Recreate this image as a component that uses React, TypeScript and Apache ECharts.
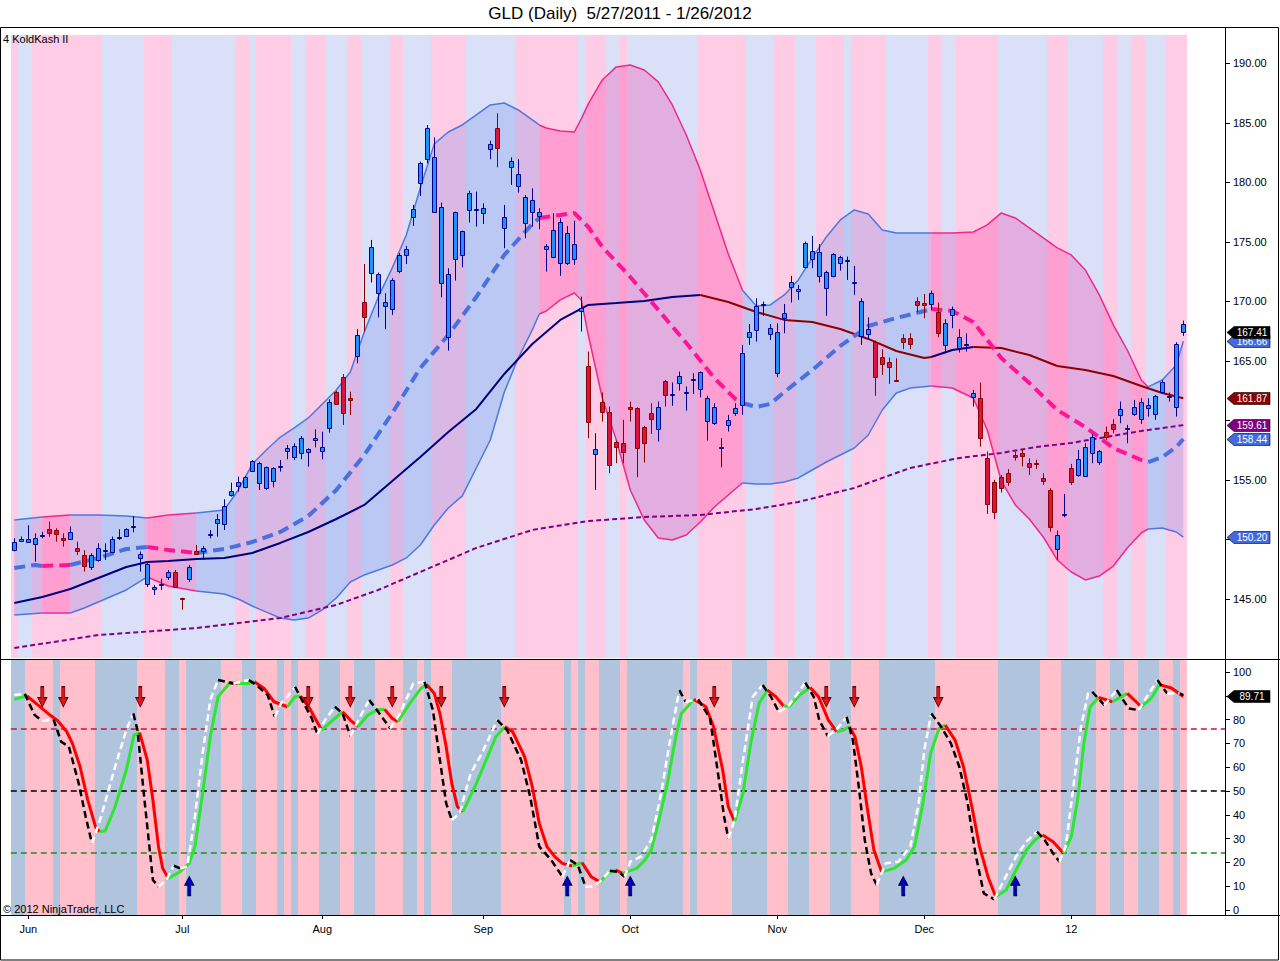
import React, { useEffect, useRef } from "react";
import * as echarts from "echarts";

const FONT = 'Arial, "Liberation Sans", Helvetica, sans-serif';
const TITLE = "GLD (Daily)  5/27/2011 - 1/26/2012";
const INDICATOR_LABEL = "4 KoldKash II";
const COPYRIGHT = "\u00a9 2012 NinjaTrader, LLC";

// x axis: bar index of the first session of each month
const MONTH_TICK_INDEX = [2, 24, 44, 67, 88, 109, 130, 151];
const MONTH_TICK_LABELS = ["Jun", "Jul", "Aug", "Sep", "Oct", "Nov", "Dec", "12"];
const PRICE_TICKS = [145, 150, 155, 160, 165, 170, 175, 180, 185, 190];
// price labels hidden under the last-value markers in the reference
const PRICE_TICKS_COVERED = [150, 160];
const OSC_TICKS = [0, 10, 20, 30, 40, 50, 60, 70, 80, 90, 100];
const OSC_TICKS_COVERED = [90];

// ---- candles (168 daily bars) ----
const OPEN = [149.12,149.85,149.80,149.62,150.35,150.86,150.80,150.10,150.04,149.26,
148.70,147.72,148.28,149.00,148.92,150.15,150.32,151.02,148.42,146.26,
145.82,146.20,146.82,147.27,145.06,146.66,149.04,149.00,150.40,151.36,
151.28,153.74,154.52,154.38,155.78,154.72,154.30,154.94,156.08,157.41,
156.96,157.24,157.35,158.36,157.46,159.34,162.36,163.62,161.86,165.43,
169.99,172.43,170.75,169.63,169.35,172.59,173.91,177.13,179.93,181.95,
177.55,171.59,166.99,173.55,173.89,177.69,177.70,177.41,182.79,184.55,
176.15,181.33,179.71,176.57,177.53,177.19,174.39,173.71,173.27,173.21,
173.55,169.21,164.59,157.17,161.59,160.75,158.17,158.09,161.11,161.03,
159.43,160.61,159.27,163.33,162.20,163.19,162.35,163.45,162.63,159.99,
159.83,157.71,159.63,160.61,161.31,167.05,167.61,169.70,167.27,164.03,
168.65,171.19,170.89,172.87,173.55,172.15,171.11,172.15,173.21,173.40,
171.57,167.13,167.25,166.63,165.31,164.89,163.37,166.97,166.91,170.02,
169.85,169.79,169.09,166.35,168.87,166.07,166.41,162.01,161.87,156.83,
154.81,155.29,155.57,157.11,157.25,156.41,156.43,155.15,154.17,149.19,
152.13,155.99,155.43,155.37,157.25,156.55,158.99,159.69,160.44,159.33,
160.55,160.11,161.09,160.53,162.41,161.99,161.11,168.11];
const CLOSE = [149.82,150.00,150.00,150.16,150.40,150.52,150.44,149.96,150.60,149.04,
147.80,148.70,149.26,149.12,150.02,150.20,150.86,151.10,148.78,147.94,
146.04,146.25,147.27,146.04,145.00,147.72,148.80,149.26,150.45,151.70,
152.82,154.10,154.86,155.22,156.60,156.40,156.06,155.98,156.14,157.69,
157.86,158.50,157.60,158.50,157.74,161.58,161.38,160.66,161.72,167.19,
168.67,174.55,172.31,169.99,171.81,173.91,174.41,177.75,181.61,184.55,
182.17,177.91,172.31,177.49,175.95,179.09,177.80,177.83,183.23,182.87,
177.07,181.81,180.71,178.75,178.53,177.49,174.67,176.01,176.68,175.73,
174.81,169.43,159.91,157.61,160.69,156.27,157.75,157.39,160.95,157.67,
158.09,160.11,161.11,162.15,162.25,163.75,162.40,163.50,164.05,161.87,
161.11,157.76,160.05,161.03,165.65,167.44,169.63,169.75,167.75,167.41,
169.01,171.67,171.05,174.95,174.27,174.19,172.45,173.97,173.71,173.45,
171.62,170.05,167.69,163.63,164.73,164.53,163.33,166.63,166.41,169.71,
169.67,170.75,167.33,168.17,169.37,166.99,166.46,162.35,158.51,152.97,
152.35,154.31,154.87,156.91,157.05,156.07,156.39,154.95,151.09,150.36,
152.18,154.79,156.75,157.73,158.65,157.42,158.59,159.29,161.00,159.38,
161.17,161.59,161.29,162.07,163.21,162.04,166.41,167.41];
const HIGH = [150.10,150.25,151.20,150.52,150.65,151.50,150.94,150.52,151.10,149.82,
149.10,148.84,149.68,149.68,150.24,150.86,150.94,151.98,148.98,148.00,
146.18,146.70,147.44,147.44,145.10,147.86,149.54,149.46,150.80,152.14,
153.38,154.78,155.28,155.34,156.68,156.54,156.12,156.06,156.68,157.94,
158.08,158.70,157.66,159.26,159.06,161.78,162.50,163.90,162.42,167.67,
173.15,175.17,172.43,170.69,171.95,174.05,174.67,178.11,181.75,184.83,
183.79,178.31,172.79,177.55,175.95,179.31,179.23,178.25,183.51,185.81,
178.11,182.11,181.95,178.95,179.51,177.83,174.83,177.41,176.99,176.35,
176.79,170.41,165.79,158.93,162.35,161.17,158.31,160.05,161.59,161.11,
159.55,161.45,161.59,163.41,163.19,164.11,162.85,163.97,164.11,162.07,
161.45,158.51,160.47,161.45,166.35,168.11,170.27,169.99,168.11,168.17,
169.79,172.15,171.39,175.03,175.51,174.83,172.59,174.05,173.83,173.77,
172.99,170.27,168.67,166.71,165.99,165.29,165.23,167.25,167.33,170.35,
170.63,170.91,169.91,168.51,169.57,167.67,167.33,162.57,163.19,157.39,
155.01,155.43,155.91,157.39,157.53,156.83,156.69,155.57,154.31,150.75,
153.83,156.35,157.53,158.09,158.87,157.53,159.49,160.11,161.59,159.63,
161.73,161.87,161.87,162.15,163.41,162.35,166.57,168.39];
const LOW = [149.00,149.80,149.75,148.14,150.10,150.24,149.82,149.40,149.96,148.70,
147.30,147.44,148.14,148.28,148.84,149.96,150.24,150.60,147.30,146.00,
145.34,145.76,146.60,145.98,144.10,146.44,148.70,148.28,150.10,150.24,
150.80,153.60,154.02,154.30,155.70,154.16,154.16,154.38,155.70,156.74,
156.68,156.74,156.12,157.74,156.74,158.98,161.30,159.62,160.46,164.81,
167.47,171.59,168.67,167.67,168.87,172.37,173.15,176.35,178.87,181.61,
177.47,170.35,165.87,171.75,172.87,176.63,176.29,176.51,181.95,181.27,
174.47,179.79,179.15,175.31,176.29,176.07,172.51,173.63,172.15,173.07,
173.07,167.47,158.51,154.17,159.91,155.57,156.41,156.41,159.91,155.23,
156.47,158.87,158.23,161.17,161.23,162.51,160.83,162.23,161.95,158.31,
159.63,156.07,159.07,160.39,160.47,166.35,166.63,168.79,166.77,163.63,
167.33,169.91,170.13,172.79,172.79,171.59,168.79,172.03,172.59,171.81,
170.55,166.35,166.85,162.07,163.83,163.07,163.27,165.99,165.99,169.07,
168.59,169.29,166.99,165.65,167.75,165.71,165.79,161.17,157.81,152.15,
151.71,153.95,154.51,156.63,156.13,155.43,155.91,154.59,150.67,148.29,
151.87,154.59,155.29,155.29,156.41,156.27,158.37,158.93,159.77,158.09,
160.39,159.71,160.33,160.05,162.35,161.59,160.33,167.11];
// bar paint colour: B = blue, R = red (groups of ten)
const CANDLE_COLOR = ("BBBBBRRRBR RBBBBBBBBB BBBRRBRBBB BBBBBBBBBB BBBBBBRRRB RBBBBBBBBB BBBBBBBBBR BBBBBBBBBB " +
  "BBRBRRRRRR RRBRBBBBBB BBBBBBBBBB BBBBBBBBBB BBBRRRRRRR RBRBBBBBRR RRRRRRRRRB BRBBBBRRBB BBBBBBBB").replace(/ /g, "");

// background stripes: run lengths, alternating colours
const UPPER_BG_RUNS = [1,2,10,6,4,9,2,1,5,2,3,3,2,4,2,4,5,7,9,1,3,2,1,10,7,4,3,3,4,1,5,6,2,2,6,7,3,5,2,2,2,3,3]; // starts pink
const LOWER_BG_RUNS = [2,4,1,5,6,4,2,1,5,3,2,3,1,1,1,3,3,2,3,4,2,1,1,3,7,9,1,1,1,2,3,1,8,1,1,5,5,3,3,3,3,4,8,9,6,3,5,2,2,2,3,2,1,1]; // starts blue

// ---- bands (sampled at bar indices) ----
const BAND_X = [0,4,8,10,12,16,19,22,26,30,32,34,36,38,40,42,44,46,48,50,52,54,56,58,60,62,64,66,68,70,72,74,75,76,78,80,81,82,84,86,88,90,92,94,96,98,100,102,104,106,108,110,112,114,116,118,120,122,124,126,128,131,134,137,139,141,143,145,147,149,151,153,155,157,159,161,162,164,166,167];
const UPPER_BAND = [151.64,151.89,152.06,152.06,152.06,151.97,151.81,152.06,152.23,
152.48,154.16,156.34,157.52,158.61,159.37,160.21,161.39,162.56,164.08,
167.44,170.38,172.82,175.59,179.54,183.24,184.24,184.83,185.67,186.51,
186.68,186.09,185.25,184.83,184.58,184.33,184.24,185.34,186.60,188.61,
189.71,189.87,189.45,188.45,186.51,183.99,181.05,177.52,173.99,170.97,
169.62,169.71,170.55,171.81,173.66,175.42,176.85,177.69,177.35,176.01,
175.76,175.76,175.76,175.76,175.84,176.43,177.44,177.02,176.18,175.34,
174.50,173.91,172.65,170.55,168.03,165.92,163.40,162.82,163.40,164.66,166.66];
const LOWER_BAND = [143.66,143.82,143.82,144.24,144.75,145.76,146.85,146.09,145.67,
145.42,145.00,144.41,143.90,143.40,143.24,143.40,144.08,145.08,146.43,
147.02,147.44,147.86,148.45,149.54,151.22,152.65,153.66,156.01,158.36,
162.39,165.25,167.61,168.95,169.20,170.13,170.71,170.13,167.18,161.89,
158.36,154.16,151.64,150.13,149.96,150.38,151.47,152.73,153.74,154.75,
154.66,154.66,154.83,155.17,155.84,156.51,157.10,157.69,158.78,160.88,
162.31,162.73,162.90,162.73,161.89,159.20,154.92,152.90,151.72,150.21,
148.28,147.27,146.60,146.93,147.77,149.29,150.55,150.88,150.97,150.63,150.20];
// trend segments [from, to, up?] of the band / middle line
const BAND_SEGMENTS = [[0,4,1],[4,8,0],[8,19,1],[19,26,0],[26,75,1],[75,104,0],[104,131,1],[131,162,0],[162,167,1]];

const MID_X = [0,3,4,8,12,16,19,22,26,30,34,38,42,46,50,54,58,62,66,70,74,75,78,80,82,84,88,92,96,100,103,104,106,108,110,114,118,122,126,130,131,134,137,141,145,149,153,157,161,162,164,166,167];
const MID_LINE = [147.61,147.86,147.77,147.86,148.45,149.20,149.37,149.12,148.87,149.20,
149.79,150.63,151.97,154.16,157.10,160.63,164.41,167.18,170.38,173.91,
176.51,177.02,177.27,177.44,176.26,174.58,172.06,169.29,166.51,163.57,
161.81,161.47,161.13,161.39,162.39,164.24,166.26,167.94,168.61,169.20,
169.37,169.20,168.28,165.25,163.15,160.88,159.45,157.69,156.68,156.51,
156.93,157.77,158.44];

const SMA_X = [0,4,8,12,16,19,22,26,30,34,38,42,46,50,54,58,62,66,70,74,78,82,86,90,94,98,102,106,110,114,118,122,126,130,131,134,137,141,145,149,153,157,161,164,167];
const SMA_LINE = [144.66,145.17,145.84,146.76,147.69,148.11,148.19,148.36,148.45,148.87,
149.71,150.63,151.72,152.90,154.92,156.93,159.03,160.97,163.91,166.43,
168.45,169.71,169.87,170.04,170.38,170.55,169.96,169.12,168.45,168.28,
167.69,166.85,165.84,165.25,165.34,165.92,166.18,166.09,165.50,164.58,
164.24,163.74,162.90,162.31,161.87];
const SMA_SEGMENTS = [[0,98,1],[98,131,0],[131,137,1],[137,167,0]];

const LONG_X = [0,12,26,38,46,52,58,66,74,82,90,98,106,112,120,128,135,141,146,151,156,161,167];
const LONG_LINE = [140.88,141.97,142.56,143.40,144.50,145.76,147.27,149.29,150.80,151.55,151.89,152.06,152.56,153.15,154.33,156.01,156.85,157.27,157.77,158.11,158.61,159.12,159.61];

// ---- oscillator ----
const D_X = [0,1.8,3.4,5.1,6.2,7.5,8.3,9.4,10.5,11.6,12.2,13,14.4,16,17.1,17.9,19,19.8,20.6,21.2,
22,23.7,25,25.8,26.9,28,29.1,30.8,31.9,33.5,34.3,35.7,37.1,39,40.1,40.9,42.2,43.9,45.5,46.9,
48,49.1,50.5,51.8,52.9,54,54.8,56.5,58.1,58.9,60,60.8,61.7,62.5,63.3,64.1,65.8,67.4,68.8,70.1,
71.2,72.9,74,75,76.1,77.2,78.3,79.7,81.1,82.4,83.7,84.8,85.9,86.9,88.9,90.1,91,92.1,93.3,94.5,
95.3,97.1,98.8,99.9,101.2,102,102.9,104.1,105.2,106.4,107.6,108.8,109.9,110.8,112.2,113.7,114.9,116.3,117.5,118.4,
119.3,120.1,121,121.9,122.8,123.9,125.7,127.4,128.6,129.8,130.9,132.1,133,134.4,135.6,136.8,137.9,139.1,140.2,141.7,
143.1,144.6,145.8,146.9,148.4,149.9,151,151.9,152.8,153.7,154.9,156.9,159,161,162.4,163.6,165.3,167];
const D_VAL = [88.5,90,86.1,81.9,79.5,74.9,70,60.2,46.2,35,32.9,33.3,43.4,58.8,73.5,74.5,63,46.2,26.6,17.5,
13.3,16.1,19.6,26.6,49,72.8,89.6,95.5,95.2,95.2,95.9,93.1,87.5,85.4,89.6,89.9,84.7,75.6,79.8,83.3,
79.8,77,81.9,84,84.3,80.5,79.1,86.8,93.1,94.8,91,82.6,68.6,53.2,43.4,41.3,51.8,63,72.8,77,
74.9,64.4,51.8,36.4,26.6,22.4,19.6,18.5,19.9,14,11.7,15.4,16.8,15.4,17.5,21,25.2,37.8,53.2,72.8,
82.6,88.5,85.4,77,58.8,43.4,37.1,49,70,86.8,92.4,89.6,85.7,85.7,90.3,93.5,89.6,79.8,74.9,75.6,
77,72.8,60.2,42,25.2,16.1,17.5,21,26.6,44.8,65.8,76.3,77.7,71.4,60.2,43.4,26.6,14,5.6,8.4,
16.8,25.2,29.4,31.5,28.7,23.8,30.8,46.2,70,85.4,89.3,87.5,91,85.4,88.9,94.7,93.3,89.71];
const K_X = [0,1.5,2.9,4,5.6,6.7,7.8,9.2,10.2,11.1,12.4,14.4,16,17,17.6,18.5,19.3,19.8,20.6,21.7,
22.8,23.7,24.7,25.8,26.9,28,29.1,31.3,33.5,34.6,36.2,37.2,38.1,39,40.1,41.1,42.5,43.3,44.4,45.8,
46.9,48,49.4,50.7,51.8,53.7,55.1,57,58.6,59.8,60.8,61.7,62.5,63.6,65.2,66.8,69,70.4,72.4,73.7,
75,76.7,78.3,79.4,80.5,81.6,82.4,83.7,85.1,86.3,87.2,88,89.5,91,92.4,93.6,95,95.9,97.7,99.4,
100.6,101.4,102,102.9,104.1,105.5,106.9,108.1,109.2,110.5,111.9,113,114.2,115,116.2,117.4,118.9,119.8,120.7,121.5,
122.4,123.2,124.5,126.3,128,129.2,130,131,132.4,133.8,135,136.2,137.3,138.5,140,141.4,143.1,144.6,146.1,147.2,
148.4,149.3,150.2,151.3,152.4,153.4,154,155.7,157.5,159.2,160.6,163.3,164.7,166.5,167];
const K_VAL = [90.3,90.8,81.9,79.5,80.1,70.7,68.6,53.2,39.2,27.9,39.2,60.2,75.6,82.6,75.6,49,26.6,12.6,9.8,12.6,
18.6,17.5,18.2,39.2,65.8,88.2,96.6,95.2,96.6,94.5,90.3,81.2,86.8,89.6,93.8,88.2,80.5,73.9,79.8,85.4,
82.6,73.1,81.2,88.2,84,76.3,82.6,95.2,95.9,84,63,44.8,37.8,40.6,57.4,65.8,79.8,75.6,63,47.6,
26.6,21,14,21,18.9,9.8,9.8,12,16.5,16,14,20.3,22.4,29.4,49,70,92.4,87.5,88.5,80.5,
56,39.2,30.1,37.8,63,89.6,94.5,89.6,83.3,85.4,91,95.5,89.6,79.8,73.1,75.6,81.2,71.4,50.4,29.4,
15.4,10.5,19.6,20.3,26.6,44.8,67.2,82.6,77,70,60.2,44.8,23.8,7,4.5,12.6,22.4,28.7,32.9,29.4,
23.8,20.3,26.6,51.8,77,91,91.7,86.1,92.4,84.7,84,96.6,91,91,90.3];
const OSC_LEVELS = [76, 50, 24];
const SELL_ARROW_IDX = [4, 7, 18, 42, 48, 54, 61, 70, 100, 116, 120, 132];
const BUY_ARROW_IDX = [25, 79, 88, 127, 143];
const SELL_ARROW_LEVEL = 89.6;
const BUY_ARROW_LEVEL = 10.1;

// last-value markers on the price scale
const PRICE_TAGS: [number, string][] = [
  [150.2, "#4169E1"], [158.44, "#4169E1"], [159.61, "#800080"], [161.87, "#8B0000"], [166.66, "#4169E1"], [167.41, "#000000"],
];
const OSC_TAG = 89.71;

const X_MIN = -0.5;
const X_MAX = 172.96;
const P_MIN = 140;
const P_MAX = 192.39;
const O_MIN = -2.1;
const O_MAX = 105.04;

function expandRuns(runs: number[], first: string, second: string): string {
  let s = "";
  let c = first;
  for (const r of runs) {
    s += c.repeat(r);
    c = c === first ? second : first;
  }
  return s;
}

function pairs(xs: number[], vs: number[]): number[][] {
  return xs.map((x, k) => [x, vs[k]]);
}

function slopeRuns(xs: number[], vs: number[]) {
  const out: { up: boolean; pts: number[][] }[] = [];
  let cur: number[][] = [[xs[0], vs[0]]];
  let dir: boolean | null = null;
  for (let k = 1; k < xs.length; k++) {
    const d = vs[k] >= vs[k - 1];
    if (dir === null) dir = d;
    if (d !== dir) {
      out.push({ up: dir, pts: cur });
      cur = [[xs[k - 1], vs[k - 1]]];
      dir = d;
    }
    cur.push([xs[k], vs[k]]);
  }
  out.push({ up: dir as boolean, pts: cur });
  return out;
}

export default function App() {
  const ref = useRef<HTMLDivElement>(null);

  useEffect(() => {
    if (!ref.current) return;
    const chart = echarts.init(ref.current, null, { renderer: "svg" });
    const UPPER_BG = expandRuns(UPPER_BG_RUNS, "P", "B");
    const LOWER_BG = expandRuns(LOWER_BG_RUNS, "B", "P");

    const series: any[] = [];

    // upper background stripes
    series.push({
      type: "custom", xAxisIndex: 0, yAxisIndex: 0, z: 0, silent: true, clip: true,
      data: UPPER_BG.split("").map((_, i) => [i, 160]),
      renderItem: (p: any, api: any) => {
        const i = p.dataIndex;
        const a = api.coord([i - 0.5, P_MAX]);
        const b = api.coord([i + 0.5, P_MIN]);
        const x0 = Math.round(a[0]);
        const x1 = Math.round(b[0]);
        return { type: "rect", shape: { x: x0, y: a[1], width: x1 - x0, height: b[1] - a[1] },
          style: { fill: UPPER_BG[i] === "P" ? "#FFCCE6" : "#D9E0F8" } };
      },
    });

    // band fill
    series.push({
      type: "custom", xAxisIndex: 0, yAxisIndex: 0, z: 1, silent: true, clip: true,
      data: BAND_SEGMENTS.map((s) => [s[0], 160]),
      renderItem: (p: any, api: any) => {
        const [a, b, up] = BAND_SEGMENTS[p.dataIndex];
        const top: number[][] = [];
        const bot: number[][] = [];
        BAND_X.forEach((x, k) => {
          if (x >= a && x <= b) {
            top.push(api.coord([x, UPPER_BAND[k]]));
            bot.push(api.coord([x, LOWER_BAND[k]]));
          }
        });
        return { type: "polygon", shape: { points: top.concat(bot.reverse()) },
          style: { fill: up ? "rgba(65,105,225,0.2)" : "rgba(255,20,147,0.25)" } };
      },
    });

    const segLine = (xs: number[], vs: number[], a: number, b: number, color: string, width: number, type: any, z: number) => ({
      type: "line", xAxisIndex: 0, yAxisIndex: 0, z, silent: true, symbol: "none", showSymbol: false,
      data: pairs(xs, vs).filter((q) => q[0] >= a && q[0] <= b),
      lineStyle: { color, width, type },
    });

    BAND_SEGMENTS.forEach(([a, b, up]) => {
      const c = up ? "#4F78DE" : "#F0288C";
      series.push(segLine(BAND_X, UPPER_BAND, a, b, c, 1.5, "solid", 2));
      series.push(segLine(BAND_X, LOWER_BAND, a, b, c, 1.5, "solid", 2));
    });
    series.push(segLine(LONG_X, LONG_LINE, 0, 167, "#800080", 2, [5, 3], 3));
    SMA_SEGMENTS.forEach(([a, b, up]) => {
      series.push(segLine(SMA_X, SMA_LINE, a, b, up ? "#00007A" : "#8B0000", 2, "solid", 3));
    });
    BAND_SEGMENTS.forEach(([a, b, up]) => {
      series.push(segLine(MID_X, MID_LINE, a, b, up ? "#4A6FE0" : "#FF1493", 4, [11, 6], 4));
    });

    // candles
    series.push({
      type: "custom", xAxisIndex: 0, yAxisIndex: 0, z: 6, silent: true, clip: true,
      data: OPEN.map((o, i) => [i, o, CLOSE[i], LOW[i], HIGH[i]]),
      encode: { x: 0, y: [1, 2, 3, 4] },
      renderItem: (p: any, api: any) => {
        const i = api.value(0);
        const o = api.value(1);
        const c = api.value(2);
        const l = api.value(3);
        const h = api.value(4);
        const po = api.coord([i, o]);
        const xc = Math.round(po[0]);
        const yo = po[1];
        const yc = api.coord([i, c])[1];
        const yl = api.coord([i, l])[1];
        const yh = api.coord([i, h])[1];
        const blue = CANDLE_COLOR[p.dataIndex] !== "R";
        const fill = blue ? "#1E90FF" : "#DC143C";
        const stroke = blue ? "#00008B" : "#8B0000";
        const top = Math.round(Math.min(yo, yc)) + 0.5;
        let bot = Math.round(Math.max(yo, yc)) + 0.5;
        if (bot - top < 1) bot = top + 1;
        return {
          type: "group",
          children: [
            { type: "line", shape: { x1: xc + 0.5, y1: yh, x2: xc + 0.5, y2: yl }, style: { stroke, lineWidth: 1 } },
            { type: "rect", shape: { x: xc - 1.5, y: top, width: 4, height: bot - top }, style: { fill, stroke, lineWidth: 1 } },
          ],
        };
      },
    });

    // lower background stripes
    series.push({
      type: "custom", xAxisIndex: 1, yAxisIndex: 1, z: 0, silent: true, clip: true,
      data: LOWER_BG.split("").map((_, i) => [i, 50]),
      renderItem: (p: any, api: any) => {
        const i = p.dataIndex;
        const a = api.coord([i - 0.5, O_MAX]);
        const b = api.coord([i + 0.5, O_MIN]);
        const x0 = Math.round(a[0]);
        const x1 = Math.round(b[0]);
        return { type: "rect", shape: { x: x0, y: a[1], width: x1 - x0, height: b[1] - a[1] },
          style: { fill: LOWER_BG[i] === "P" ? "#FFC0CB" : "#B0C4DE" } };
      },
    });

    const levelColors = ["#C8143C", "#000000", "#228B22"];
    OSC_LEVELS.forEach((lv, k) => {
      series.push({
        type: "line", xAxisIndex: 1, yAxisIndex: 1, z: 1, silent: true, symbol: "none",
        data: [[X_MIN, lv], [X_MAX, lv]],
        lineStyle: { color: levelColors[k], width: 1.5, type: [6, 4] },
      });
    });

    slopeRuns(D_X, D_VAL).forEach((r) => {
      series.push({
        type: "line", xAxisIndex: 1, yAxisIndex: 1, z: 2, silent: true, symbol: "none",
        data: r.pts, lineStyle: { color: r.up ? "#2EE62E" : "#FF0000", width: 3 },
      });
    });
    slopeRuns(K_X, K_VAL).forEach((r) => {
      series.push({
        type: "line", xAxisIndex: 1, yAxisIndex: 1, z: 3, silent: true, symbol: "none",
        data: r.pts, lineStyle: { color: r.up ? "#FFFFFF" : "#000000", width: 2.5, type: [7, 4] },
      });
    });

    series.push({
      type: "scatter", xAxisIndex: 1, yAxisIndex: 1, z: 5, silent: true,
      data: SELL_ARROW_IDX.map((i) => [i, SELL_ARROW_LEVEL]),
      symbol: "path://M3,0L6,0L6,11L9,11L4.5,20L0,11L3,11Z", symbolSize: [9, 20],
      itemStyle: { color: "#E0141E", borderColor: "#6A0000", borderWidth: 1, opacity: 1 },
    });
    series.push({
      type: "scatter", xAxisIndex: 1, yAxisIndex: 1, z: 5, silent: true,
      data: BUY_ARROW_IDX.map((i) => [i, BUY_ARROW_LEVEL]),
      symbol: "path://M4.5,0L9,9L6,9L6,20L3,20L3,9L0,9Z", symbolSize: [9, 19],
      itemStyle: { color: "#0000C8", borderColor: "#000050", borderWidth: 1, opacity: 1 },
    });

    const axisText = { fontSize: 11, color: "#000", fontFamily: FONT };
    const option: any = {
      animation: false,
      backgroundColor: "#ffffff",
      grid: [
        { left: 10.8, right: 55, top: 35, height: 623.5 },
        { left: 10.8, right: 55, top: 660, height: 255 },
      ],
      xAxis: [
        { type: "value", gridIndex: 0, min: X_MIN, max: X_MAX, show: false, splitLine: { show: false } },
        {
          type: "value", gridIndex: 1, min: X_MIN, max: X_MAX,
          axisLine: { show: true, onZero: false, lineStyle: { color: "#000", width: 1 } },
          axisTick: { show: true, customValues: MONTH_TICK_INDEX, length: 4, lineStyle: { color: "#000" } },
          axisLabel: {
            ...axisText, customValues: MONTH_TICK_INDEX, margin: 8,
            formatter: (v: number) => {
              const k = MONTH_TICK_INDEX.indexOf(Math.round(v));
              return k >= 0 ? MONTH_TICK_LABELS[k] : "";
            },
          },
          splitLine: { show: false },
        },
      ],
      yAxis: [
        {
          type: "value", gridIndex: 0, position: "right", min: P_MIN, max: P_MAX,
          axisLine: { show: true, onZero: false, lineStyle: { color: "#000" } },
          axisTick: { show: true, customValues: PRICE_TICKS, length: 5, lineStyle: { color: "#000" } },
          axisLabel: {
            ...axisText, customValues: PRICE_TICKS, margin: 8,
            formatter: (v: number) => (PRICE_TICKS_COVERED.indexOf(Math.round(v)) >= 0 ? "" : v.toFixed(2)),
          },
          splitLine: { show: false },
        },
        {
          type: "value", gridIndex: 1, position: "right", min: O_MIN, max: O_MAX,
          axisLine: { show: true, onZero: false, lineStyle: { color: "#000" } },
          axisTick: { show: true, customValues: OSC_TICKS, length: 5, lineStyle: { color: "#000" } },
          axisLabel: {
            ...axisText, customValues: OSC_TICKS, margin: 8,
            formatter: (v: number) => (OSC_TICKS_COVERED.indexOf(Math.round(v)) >= 0 ? "" : String(Math.round(v))),
          },
          splitLine: { show: false },
        },
      ],
      series,
    };
    chart.setOption(option);

    const tag = (v: number, axis: number, bg: string, text: string) => {
      const y = Math.round(chart.convertToPixel({ yAxisIndex: axis } as any, v) as any) + 0.5;
      return {
        type: "group", z: 50,
        children: [
          { type: "polygon", shape: { points: [[1227, y], [1234, y - 6], [1270, y - 6], [1270, y + 6], [1234, y + 6]] },
            style: { fill: bg, stroke: "#000", lineWidth: 0.6 } },
          { type: "text", style: { text, x: 1252, y, align: "center", verticalAlign: "middle", fill: "#fff", font: `10px ${FONT}` } },
        ],
      };
    };

    const graphics: any[] = [
      { type: "rect", z: 40, shape: { x: 0.5, y: 27.5, width: 1278, height: 932.5 }, style: { fill: "none", stroke: "#000", lineWidth: 1 } },
      { type: "line", z: 40, shape: { x1: 0, y1: 659.5, x2: 1280, y2: 659.5 }, style: { stroke: "#000", lineWidth: 1 } },
      { type: "line", z: 40, shape: { x1: 0, y1: 915.5, x2: 1280, y2: 915.5 }, style: { stroke: "#000", lineWidth: 1 } },
      { type: "line", z: 40, shape: { x1: 1225.5, y1: 27, x2: 1225.5, y2: 915 }, style: { stroke: "#000", lineWidth: 1 } },
      { type: "text", z: 40, style: { text: TITLE, x: 620, y: 13, align: "center", verticalAlign: "middle", fill: "#000", font: `17px ${FONT}` } },
      { type: "text", z: 40, style: { text: INDICATOR_LABEL, x: 3, y: 39, align: "left", verticalAlign: "middle", fill: "#000", font: `11px ${FONT}` } },
      { type: "text", z: 40, style: { text: COPYRIGHT, x: 3, y: 909, align: "left", verticalAlign: "middle", fill: "#000", font: `11px ${FONT}` } },
    ];
    PRICE_TAGS.forEach(([v, c]) => graphics.push(tag(v, 0, c, v.toFixed(2))));
    graphics.push(tag(OSC_TAG, 1, "#000000", OSC_TAG.toFixed(2)));
    chart.setOption({ graphic: graphics });

    return () => chart.dispose();
  }, []);

  return (
    <div
      ref={ref}
      style={{ position: "fixed", left: 0, top: 0, width: 1280, height: 961, background: "#fff" }}
    />
  );
}
